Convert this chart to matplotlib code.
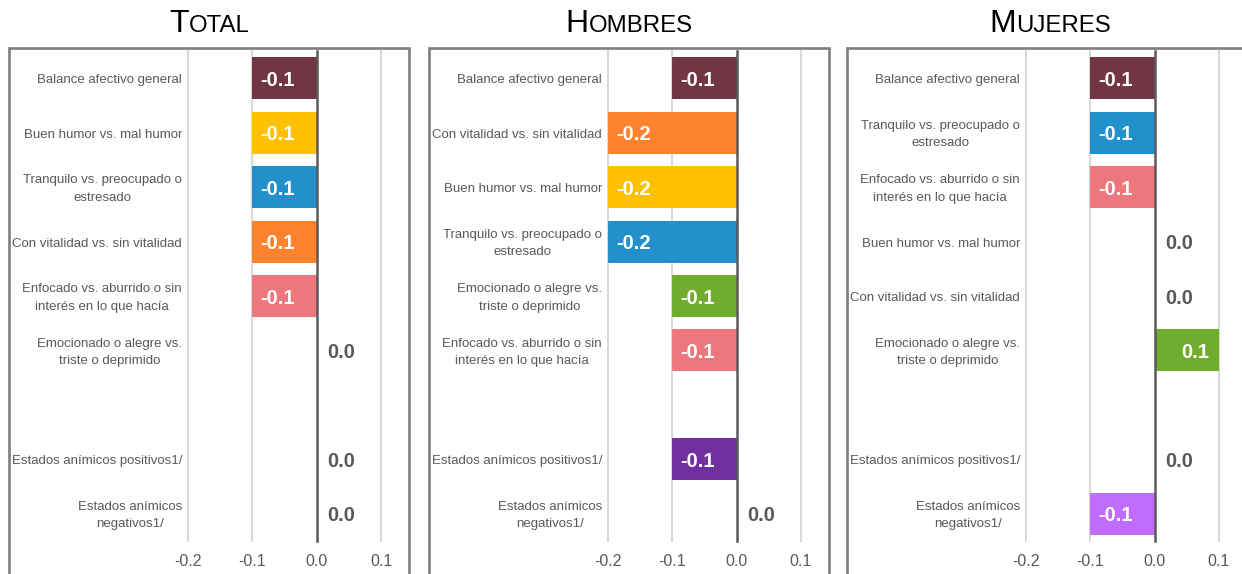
import matplotlib
matplotlib.use("Agg")
import matplotlib.pyplot as plt
from matplotlib.patches import Rectangle
from matplotlib.transforms import offset_copy, blended_transform_factory

plt.rcParams['font.family'] = ['Liberation Sans', 'DejaVu Sans']
plt.rcParams['axes.unicode_minus'] = False

# ---------------- data ----------------
titles = ["Total", "Hombres", "Mujeres"]

total_categories = [
    "Balance afectivo general",
    "Buen humor vs. mal humor",
    "Tranquilo vs. preocupado o\nestresado",
    "Con vitalidad vs. sin vitalidad",
    "Enfocado vs. aburrido o sin\ninterés en lo que hacía",
    "Emocionado o alegre vs.\ntriste o deprimido",
    "Estados anímicos positivos1/",
    "Estados anímicos\nnegativos1/",
]
total_values = [-0.1, -0.1, -0.1, -0.1, -0.1, 0.0, 0.0, 0.0]

hombres_categories = [
    "Balance afectivo general",
    "Con vitalidad vs. sin vitalidad",
    "Buen humor vs. mal humor",
    "Tranquilo vs. preocupado o\nestresado",
    "Emocionado o alegre vs.\ntriste o deprimido",
    "Enfocado vs. aburrido o sin\ninterés en lo que hacía",
    "Estados anímicos positivos1/",
    "Estados anímicos\nnegativos1/",
]
hombres_values = [-0.1, -0.2, -0.2, -0.2, -0.1, -0.1, -0.1, 0.0]

mujeres_categories = [
    "Balance afectivo general",
    "Tranquilo vs. preocupado o\nestresado",
    "Enfocado vs. aburrido o sin\ninterés en lo que hacía",
    "Buen humor vs. mal humor",
    "Con vitalidad vs. sin vitalidad",
    "Emocionado o alegre vs.\ntriste o deprimido",
    "Estados anímicos positivos1/",
    "Estados anímicos\nnegativos1/",
]
mujeres_values = [-0.1, -0.1, -0.1, 0.0, 0.0, 0.1, 0.0, -0.1]

x_ticks = [-0.2, -0.1, 0.0, 0.1]

# ---------------- style ----------------
category_colors = {
    "Balance afectivo general": "#713543",
    "Buen humor vs. mal humor": "#FFC000",
    "Tranquilo vs. preocupado o\nestresado": "#2290CB",
    "Con vitalidad vs. sin vitalidad": "#FF832F",
    "Enfocado vs. aburrido o sin\ninterés en lo que hacía": "#EE767D",
    "Emocionado o alegre vs.\ntriste o deprimido": "#70AD2F",
    "Estados anímicos positivos1/": "#7030A0",
    "Estados anímicos\nnegativos1/": "#BF6CFF",
}

W, H, DPI = 1242, 574, 100
fig = plt.figure(figsize=(W / DPI, H / DPI), dpi=DPI)
fig.patch.set_facecolor("white")

def fx(px):
    return px / W

def fy(py):
    return 1 - py / H

TEXT_GRAY = "#595959"
panels = [
    (titles[0], total_categories, total_values, 0, (9, 409)),
    (titles[1], hombres_categories, hombres_values, 420, (429, 829)),
    (titles[2], mujeres_categories, mujeres_values, 838, (847, 1253)),
]

AX_L, AX_W, AX_T, AX_B = 188, 193, 51, 541

renderer = fig.canvas.get_renderer()

for title, cats, vals, ox, (bl, br) in panels:
    # frame box
    fig.add_artist(Rectangle((fx(bl), fy(H + 10)), (br - bl) / W, (H + 10 - 48) / H,
                             transform=fig.transFigure, fill=False,
                             ec="#7F7F7F", lw=1.9, clip_on=False))

    ax = fig.add_axes([fx(AX_L + ox), fy(AX_B), AX_W / W, (AX_B - AX_T) / H])
    ax.set_xlim(-0.2, 0.1)
    ax.set_ylim(8.5, -0.5)
    for s in ax.spines.values():
        s.set_visible(False)
    ax.set_facecolor("none")

    positions = [i if i < 6 else i + 1 for i in range(len(cats))]

    for t in x_ticks:
        if t == 0:
            continue
        ax.axvline(t, color="#D9D9D9", lw=1.5, zorder=0, clip_on=False)

    colors = [category_colors[c] for c in cats]
    ax.barh(positions, vals, height=0.77, color=colors, zorder=2)
    ax.axvline(0, color="#595959", lw=1.8, zorder=3, clip_on=False)

    ax.set_xticks(x_ticks)
    ax.set_xticklabels([f"{t:.1f}" for t in x_ticks])
    ax.tick_params(axis="x", length=0, pad=9, labelsize=11.5, labelcolor=TEXT_GRAY)
    ax.set_yticks([])

    lab_tr = offset_copy(blended_transform_factory(ax.transAxes, ax.transData),
                         fig=fig, x=-6, y=-2, units="dots")
    for pos, cat, v in zip(positions, cats, vals):
        ax.text(0, pos, cat, transform=lab_tr, ha="right", va="center",
                multialignment="center", fontsize=9.5, color=TEXT_GRAY,
                linespacing=1.6)
        if v < 0:
            tr = offset_copy(ax.transData, fig=fig, x=8, y=-2, units="dots")
            ax.text(v, pos, f"{v:.1f}", transform=tr, ha="left", va="center",
                    fontsize=14.5, fontweight="bold", color="white", zorder=4)
        elif v > 0:
            tr = offset_copy(ax.transData, fig=fig, x=-10, y=-2, units="dots")
            ax.text(v, pos, f"{v:.1f}", transform=tr, ha="right", va="center",
                    fontsize=14.5, fontweight="bold", color="white", zorder=4)
        else:
            tr = offset_copy(ax.transData, fig=fig, x=11, y=-2, units="dots")
            ax.text(v, pos, f"{v:.1f}", transform=tr, ha="left", va="center",
                    fontsize=14.5, fontweight="bold", color=TEXT_GRAY, zorder=4)

    # small-caps title
    cx = (bl + br) / 2
    t1 = fig.text(0, fy(32), title[0].upper(), fontsize=23, va="baseline", ha="left")
    t2 = fig.text(0, fy(32), title[1:].upper(), fontsize=17.3, va="baseline", ha="left")
    w1 = t1.get_window_extent(renderer).width
    w2 = t2.get_window_extent(renderer).width
    x0 = cx - (w1 + w2) / 2
    t1.set_x(fx(x0))
    t2.set_x(fx(x0 + w1))

fig.savefig("out.png", dpi=DPI)
